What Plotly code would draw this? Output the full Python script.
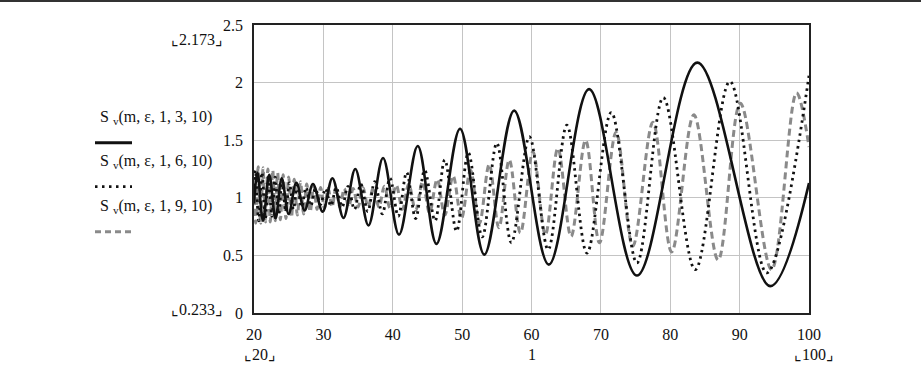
import plotly.graph_objects as go

# ---- data (extrema of each curve, plus start/end points) ----
s3_x = [20.0, 20.5, 21.3, 22.2, 23.1, 24.0, 25.0, 26.1, 27.3, 28.5, 29.9, 31.3, 32.9, 34.6,
        36.5, 38.6, 40.9, 43.6, 46.3, 49.7, 53.2, 57.5, 62.5, 68.3, 75.2, 83.9, 94.4, 100.0]
s3_y = [0.95, 1.22, 0.80, 1.20, 0.82, 1.17, 0.86, 1.13, 0.89, 1.12, 0.88, 1.17, 0.825, 1.25,
        0.76, 1.345, 0.68, 1.45, 0.60, 1.60, 0.507, 1.757, 0.42, 1.943, 0.325, 2.173, 0.233, 1.128]

s6_x = [20.0, 20.2, 20.68, 21.15, 21.63, 22.1, 22.58, 23.05, 23.55, 24.05, 24.58, 25.1, 25.68,
        26.25, 26.88, 27.5, 28.18, 28.85, 29.58, 30.3, 31.08, 31.85, 32.7, 33.55, 34.48, 35.4,
        36.4, 37.4, 38.5, 39.6, 40.8, 42.0, 43.3, 44.6, 46.1, 47.5, 49.2, 50.9, 52.9, 55.0,
        57.1, 59.7, 62.4, 65.1, 68.0, 71.5, 75.2, 79.0, 83.6, 88.6, 93.9, 100.0]
s6_y = [1.10, 1.24, 0.80, 1.22, 0.82, 1.20, 0.84, 1.18, 0.86, 1.15, 0.88, 1.13, 0.90,
        1.11, 0.92, 1.09, 0.93, 1.08, 0.94, 1.08, 0.93, 1.09, 0.92, 1.10, 0.90, 1.12,
        0.88, 1.14, 0.86, 1.17, 0.84, 1.22, 0.82, 1.24, 0.80, 1.33, 0.71, 1.39, 0.66, 1.475,
        0.61, 1.53, 0.55, 1.63, 0.52, 1.74, 0.435, 1.87, 0.377, 2.01, 0.348, 2.06]

s9_x = [20.0, 20.25, 20.6, 20.95, 21.3, 21.65, 22.0, 22.35, 22.7, 23.05, 23.4, 23.8, 24.2,
        24.6, 25.0, 25.4, 25.8, 26.25, 26.7, 27.15, 27.6, 28.1, 28.6, 29.1, 29.6, 30.15,
        30.7, 31.25, 31.8, 32.4, 33.0, 33.65, 34.3, 35.0, 35.7, 36.45, 37.2, 38.0, 38.8,
        39.6, 40.5, 41.4, 42.3, 43.3, 44.3, 45.3, 46.4, 47.5, 48.7, 49.9, 51.2, 52.5, 53.9,
        55.3, 56.8, 58.4, 60.2, 62.0, 63.8, 65.7, 67.8, 69.8, 72.2, 74.6, 77.5, 80.2, 83.4,
        86.9, 90.1, 94.6, 98.2, 100.0]
s9_y = [1.00, 0.78, 1.27, 0.78, 1.26, 0.79, 1.25, 0.79, 1.24, 0.80, 1.22, 0.81, 1.20,
        0.82, 1.18, 0.83, 1.16, 0.85, 1.14, 0.86, 1.12, 0.88, 1.10, 0.90, 1.09, 0.91,
        1.08, 0.92, 1.08, 0.92, 1.08, 0.92, 1.08, 0.92, 1.09, 0.92, 1.09, 0.92, 1.10,
        0.91, 1.11, 0.90, 1.12, 0.89, 1.14, 0.87, 1.16, 0.85, 1.19, 0.82, 1.24, 0.78, 1.29,
        0.74, 1.33, 0.695, 1.40, 0.68, 1.43, 0.665, 1.50, 0.61, 1.57, 0.58, 1.655, 0.53, 1.72,
        0.46, 1.82, 0.377, 1.91, 1.44]

x_ticks = [20, 30, 40, 50, 60, 70, 80, 90, 100]
y_ticks = [0, 0.5, 1, 1.5, 2, 2.5]
y_tick_text = ["0", "0.5", "1", "1.5", "2", "2.5"]
legend_labels = ["S <sub>v</sub>(m, ε, 1, 3, 10)", "S <sub>v</sub>(m, ε, 1, 6, 10)",
                 "S <sub>v</sub>(m, ε, 1, 9, 10)"]
y_max_label, y_min_label = "⌞2.173⌟", "⌞0.233⌟"
x_min_label, x_mid_label, x_max_label = "⌞20⌟", "1", "⌞100⌟"

FONT = "Liberation Serif"
GRAY = "#8a8a8a"

fig = go.Figure()
fig.add_trace(go.Scatter(x=s9_x, y=s9_y, mode="lines",
                         line=dict(color=GRAY, width=3, dash="7px,4px", shape="spline", smoothing=1.0)))
fig.add_trace(go.Scatter(x=s6_x, y=s6_y, mode="lines",
                         line=dict(color="#111111", width=2.8, dash="2.5px,4px", shape="spline", smoothing=1.0)))
fig.add_trace(go.Scatter(x=s3_x, y=s3_y, mode="lines",
                         line=dict(color="#111111", width=2.6, shape="spline", smoothing=1.0)))

L, R, T, B = 254, 809, 25, 313.5
W, H = 921, 371
pw, ph = R - L, B - T


def px(x):
    return (x - L) / pw


def py(y):
    return (B - y) / ph


ann = []
for txt, yy in zip(legend_labels, [118, 162, 207]):
    ann.append(dict(text=txt, x=px(98), y=py(yy), xanchor="left", yanchor="middle"))
ann.append(dict(text=y_max_label, x=px(197), y=py(40), xanchor="center", yanchor="middle"))
ann.append(dict(text=y_min_label, x=px(197), y=py(310), xanchor="center", yanchor="middle"))
ann.append(dict(text=x_min_label, x=px(260), y=py(355), xanchor="center", yanchor="middle"))
ann.append(dict(text=x_mid_label, x=0.5, y=py(355), xanchor="center", yanchor="middle"))
ann.append(dict(text=x_max_label, x=px(814), y=py(355), xanchor="center", yanchor="middle"))
for a in ann:
    a.update(xref="paper", yref="paper", showarrow=False,
             font=dict(family=FONT, size=16, color="#111111"))

shapes = [
    dict(type="line", xref="paper", yref="paper", x0=px(95), x1=px(132), y0=py(143), y1=py(143),
         line=dict(color="#111111", width=3)),
    dict(type="line", xref="paper", yref="paper", x0=px(95), x1=px(132), y0=py(187), y1=py(187),
         line=dict(color="#111111", width=2.8, dash="2.5px,4.5px")),
    dict(type="line", xref="paper", yref="paper", x0=px(95), x1=px(132), y0=py(232), y1=py(232),
         line=dict(color=GRAY, width=3, dash="6px,4px")),
    dict(type="line", xref="paper", yref="paper", x0=px(0), x1=px(W), y0=py(1), y1=py(1),
         line=dict(color="#333333", width=2)),
]

fig.update_layout(
    width=W, height=H,
    margin=dict(l=L, r=W - R, t=T, b=H - B),
    paper_bgcolor="white", plot_bgcolor="white",
    showlegend=False,
    annotations=ann, shapes=shapes,
    font=dict(family=FONT, size=16, color="#111111"),
)
fig.update_xaxes(range=[20, 100], tickvals=x_ticks, showgrid=True, gridcolor="#c4c4c4", gridwidth=1,
                 showline=True, linecolor="#222222", linewidth=1.5, mirror=True, zeroline=False,
                 ticks="", ticklabelstandoff=6, tickfont=dict(family=FONT, size=16))
fig.update_yaxes(range=[0, 2.5], tickvals=y_ticks, ticktext=y_tick_text, showgrid=True,
                 gridcolor="#c4c4c4", gridwidth=1, showline=True, linecolor="#222222", linewidth=1.5,
                 mirror=True, zeroline=False, ticks="", ticklabelstandoff=6,
                 tickfont=dict(family=FONT, size=16))

fig.write_html("out.html", config={"displayModeBar": False},
               post_script="document.body.style.margin='0px';document.body.style.overflow='hidden';")
